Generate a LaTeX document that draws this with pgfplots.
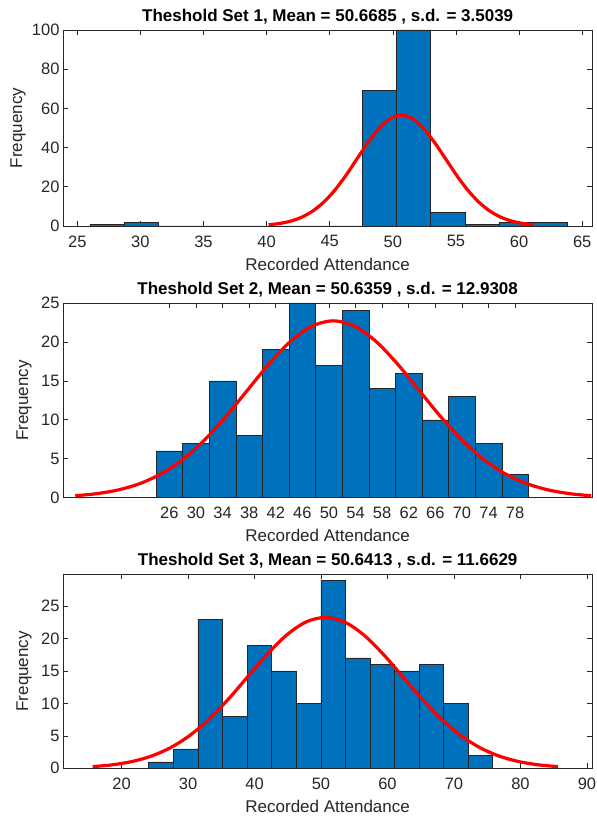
\documentclass[border=0pt]{standalone}
\usepackage{fontspec}
\setmainfont{Liberation Sans}
\usepackage{pgfplots}
\pgfplotsset{compat=1.18}

\definecolor{mblue}{RGB}{0,114,189}
\definecolor{mgray}{RGB}{38,38,38}

\pgfplotsset{
  histax/.style={
    scale only axis,
    width=529.3bp,
    axis line style={mgray, line width=0.7bp},
    every tick/.style={mgray, line width=0.7bp},
    major tick length=5bp,
    tick align=inside,
    ticklabel style={font=\fontsize{16.5bp}{19bp}\selectfont, text=mgray},
    xticklabel style={yshift=-6bp},
    /pgf/number format/assume math mode=true,
    scaled ticks=false,
    xlabel={Recorded Attendance},
    ylabel={Frequency},
    label style={font=\fontsize{17bp}{20bp}\selectfont, text=mgray},
    title style={font=\fontsize{17bp}{20bp}\selectfont\bfseries, at={(0.5,1)}, anchor=base, yshift=2.5bp},
    xlabel style={at={(axis description cs:0.5,0)}, anchor=center, yshift=-38bp},
    ymin=0,
  },
  histbars/.style={ybar interval, fill=mblue, draw=black!85, line width=0.6bp},
  normfit/.style={red, line width=3.2bp, smooth, no marks},
}

\begin{document}
\begin{tikzpicture}
\path[use as bounding box] (0,0) rectangle (597bp,817bp);

% --- set 1
\begin{axis}[histax,
  at={(63bp,591bp)}, anchor=south west, height=196bp,
  xmin=23.87, xmax=65.8, ymax=100,
  xtick={25,30,...,65}, ytick={0,20,...,100},
  ylabel style={at={(axis description cs:-0.085,0.5)}, anchor=center},
  title={Theshold Set 1, Mean = 50.6685 , s.d. = 3.5039}]
\addplot[histbars] coordinates {
  (26.0,1) (28.7,2) (31.4,0) (34.1,0) (36.8,0) (39.5,0) (42.2,0) (44.9,0)
  (47.6,69) (50.3,100) (53.0,7) (55.7,1) (58.4,2) (61.1,2) (63.8,0)};
\addplot[normfit] coordinates {
  (40.157,0.628) (41.033,1.289) (41.909,2.485) (42.785,4.500) (43.661,7.655)
  (44.537,12.23) (45.413,18.36) (46.289,25.89) (47.165,34.31) (48.041,42.69)
  (48.917,49.91) (49.793,54.82) (50.669,56.56) (51.545,54.82) (52.421,49.91)
  (53.297,42.69) (54.173,34.31) (55.049,25.89) (55.925,18.36) (56.801,12.23)
  (57.677,7.655) (58.553,4.500) (59.429,2.485) (60.305,1.289) (61.181,0.628)};
\end{axis}

% --- set 2
\begin{axis}[histax,
  at={(63bp,319.3bp)}, anchor=south west, height=194.7bp,
  xmin=10.0, xmax=89.6, ymax=25,
  xtick={26,30,...,78}, ytick={0,5,...,25},
  ylabel style={at={(axis description cs:-0.0737,0.5)}, anchor=center},
  title={Theshold Set 2, Mean = 50.6359 , s.d. = 12.9308}]
\addplot[histbars] coordinates {
  (24,6) (28,7) (32,15) (36,8) (40,19) (44,25) (48,17) (52,24)
  (56,14) (60,16) (64,10) (68,13) (72,7) (76,3) (80,0)};
\addplot[normfit] coordinates {
  (11.844,0.252) (15.076,0.517) (18.309,0.998) (21.542,1.807) (24.774,3.073)
  (28.007,4.911) (31.240,7.372) (34.472,10.40) (37.705,13.77) (40.938,17.14)
  (44.171,20.04) (47.403,22.01) (50.636,22.71) (53.869,22.01) (57.101,20.04)
  (60.334,17.14) (63.567,13.77) (66.800,10.40) (70.032,7.372) (73.265,4.911)
  (76.498,3.073) (79.730,1.807) (82.963,0.998) (86.196,0.517) (89.428,0.252)};
\end{axis}

% --- set 3
\begin{axis}[histax,
  at={(63bp,48.7bp)}, anchor=south west, height=194bp,
  xmin=11.2, xmax=90.8, ymax=29.9,
  xtick={20,30,...,90}, ytick={0,5,...,25},
  ylabel style={at={(axis description cs:-0.0737,0.5)}, anchor=center},
  title={Theshold Set 3, Mean = 50.6413 , s.d. = 11.6629}]
\addplot[histbars] coordinates {
  (24.10,1) (27.80,3) (31.49,23) (35.19,8) (38.88,19) (42.58,15) (46.27,10)
  (49.97,29) (53.66,17) (57.36,16) (61.05,15) (64.75,16) (68.44,10) (72.14,2)
  (75.83,0)};
\addplot[normfit] coordinates {
  (15.652,0.258) (18.568,0.530) (21.484,1.022) (24.399,1.850) (27.315,3.147)
  (30.231,5.030) (33.147,7.550) (36.062,10.65) (38.978,14.11) (41.894,17.55)
  (44.810,20.52) (47.725,22.54) (50.641,23.26) (53.557,22.54) (56.472,20.52)
  (59.388,17.55) (62.304,14.11) (65.220,10.65) (68.135,7.550) (71.051,5.030)
  (73.967,3.147) (76.883,1.850) (79.798,1.022) (82.714,0.530) (85.630,0.258)};
\end{axis}
\end{tikzpicture}
\end{document}
